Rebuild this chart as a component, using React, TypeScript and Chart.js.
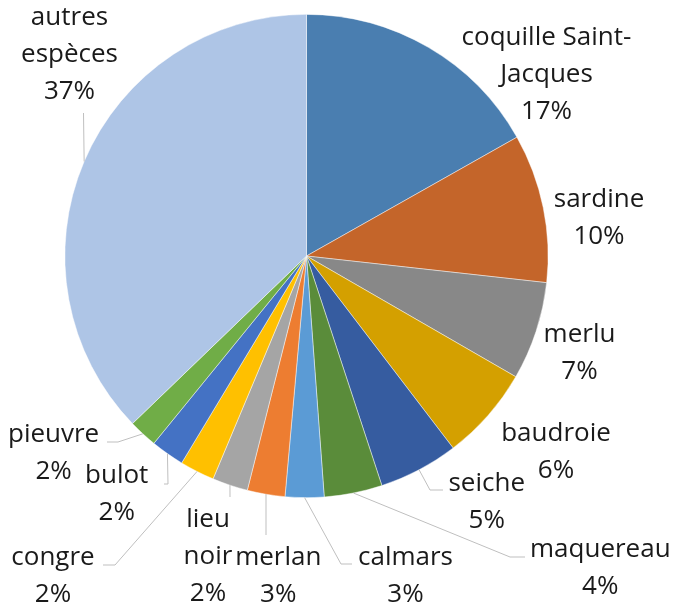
import React, { useEffect, useRef } from "react";
import { Chart, registerables } from "chart.js";

Chart.register(...registerables);

const categories = [
  "coquille Saint-Jacques",
  "sardine",
  "merlu",
  "baudroie",
  "seiche",
  "maquereau",
  "calmars",
  "merlan",
  "lieu noir",
  "congre",
  "bulot",
  "pieuvre",
  "autres espèces",
];

const shares = [16.82, 9.94, 6.57, 6.29, 5.33, 3.88, 2.59, 2.52, 2.38, 2.32, 2.24, 1.92, 37.2];

const labelLines = [
  ["coquille Saint-", "Jacques"],
  ["sardine"],
  ["merlu"],
  ["baudroie"],
  ["seiche"],
  ["maquereau"],
  ["calmars"],
  ["merlan"],
  ["lieu", "noir"],
  ["congre"],
  ["bulot"],
  ["pieuvre"],
  ["autres", "espèces"],
];

const colors = [
  "#4a7eb0",
  "#c4652a",
  "#888888",
  "#d4a000",
  "#365ca0",
  "#5a8c3a",
  "#5b9bd5",
  "#ed7d31",
  "#a5a5a5",
  "#ffc000",
  "#4472c4",
  "#70ad47",
  "#aec5e6",
];

// Layout: label block position (center x, first baseline y) relative to pie center
const labelOffsets: [number, number][] = [
  [240, -211],
  [292.5, -49.3],
  [273, 85.7],
  [249.5, 184.7],
  [180.2, 234.7],
  [293.8, 300.7],
  [99, 309],
  [-28.2, 309],
  [-98.5, 270.7],
  [-253.5, 309],
  [-189.8, 227.3],
  [-252.9, 185.7],
  [-237, -231],
];

// Layout: leader line points (after the start on the slice edge), relative to pie center
const leaderPoints: ([number, number][] | null)[] = [
  null,
  null,
  null,
  null,
  [[123.5, 234], [136.5, 234]],
  [[203.5, 301], [218.5, 301]],
  [[34.5, 308], [45.5, 308]],
  [[-40.5, 279]],
  [[-76.5, 241]],
  [[-191.5, 309], [-203.5, 309]],
  [[-138.5, 228], [-142.5, 228]],
  [[-188.5, 186], [-199.5, 186]],
  [[-223, -143]],
];

const FONT = "26px 'Open Sans'";
const LINE_H = 37;

const labelPlugin = {
  id: "pieLabels",
  afterDatasetsDraw(chart: any) {
    const ctx = chart.ctx;
    const meta = chart.getDatasetMeta(0);
    const data = chart.data.datasets[0].data as number[];
    const total = data.reduce((a, b) => a + b, 0);
    ctx.save();
    meta.data.forEach((arc: any, i: number) => {
      const p = arc.getProps(["x", "y", "startAngle", "endAngle", "outerRadius"], true);
      const cx = p.x;
      const cy = p.y;
      const mid = (p.startAngle + p.endAngle) / 2;
      const pts = leaderPoints[i];
      if (pts) {
        ctx.beginPath();
        ctx.strokeStyle = "#bfbfbf";
        ctx.lineWidth = 1;
        ctx.moveTo(cx + Math.cos(mid) * p.outerRadius, cy + Math.sin(mid) * p.outerRadius);
        pts.forEach(([dx, dy]) => ctx.lineTo(cx + dx, cy + dy));
        ctx.stroke();
      }
      const pct = Math.round((data[i] / total) * 100) + "%";
      const lines = [...labelLines[i], pct];
      const [ox, oy] = labelOffsets[i];
      ctx.font = FONT;
      ctx.fillStyle = "#1a1a1a";
      ctx.textAlign = "center";
      ctx.textBaseline = "alphabetic";
      lines.forEach((t, k) => {
        ctx.fillText(t, cx + ox, cy + oy + k * LINE_H);
      });
    });
    ctx.restore();
  },
};

export default function App() {
  const ref = useRef<HTMLCanvasElement | null>(null);
  useEffect(() => {
    document.body.style.margin = "0";
    if (!ref.current) return;
    const chart = new Chart(ref.current, {
      type: "pie",
      data: {
        labels: categories,
        datasets: [
          {
            data: shares,
            backgroundColor: colors,
            borderColor: "rgba(255,255,255,0.6)",
            borderWidth: 0.75,
          },
        ],
      },
      options: {
        responsive: false,
        animation: false,
        layout: { padding: { top: 14, bottom: 107, left: 64.5, right: 129.5 } },
        plugins: {
          legend: { display: false },
          tooltip: { enabled: false },
        },
      },
      plugins: [labelPlugin],
    });
    return () => chart.destroy();
  }, []);
  return (
    <div style={{ width: 678, height: 605, background: "#fff" }}>
      <canvas ref={ref} width={678} height={605} style={{ display: "block" }} />
    </div>
  );
}
